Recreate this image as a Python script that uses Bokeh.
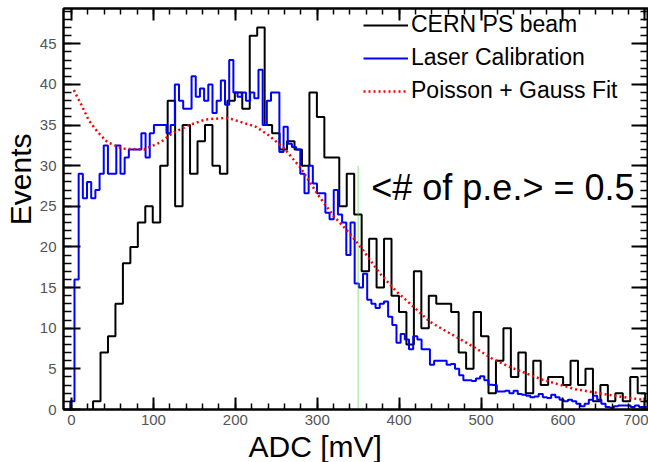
from bokeh.plotting import figure
from bokeh.models import (Range1d, LinearAxis, SingleIntervalTicker, Legend,
                          LegendItem, Title, Label)
from bokeh.embed import file_html
from bokeh.resources import INLINE

# ---------------- data ----------------
# CERN PS beam histogram (black): first bin edge and bin width in mV, counts per bin
beam_start = 26.3
beam_width = 9.11
beam_counts = [1, 7, 9, 13, 18, 20, 23, 25, 23, 30,
               38, 25, 35, 29, 33, 35, 30, 29, 38, 39,
               37, 46, 47, 35, 34, 32, 33, 32, 30, 39,
               36, 31, 31, 25, 29, 24, 17, 21, 15, 21,
               14, 12, 8, 17, 10, 14, 13, 13, 12, 7,
               5, 12, 9, 2, 6, 10, 4, 7, 2, 6,
               3, 4, 4, 3, 6, 3, 5, 1, 3, 1,
               2, 1, 4, 2, 1]

# Laser calibration histogram (blue)
laser_start = -1.5
laser_width = 5.106
laser_counts = [1, 16, 29, 26, 28, 26, 27, 29, 32.5, 29,
                29, 32.5, 29, 31, 32, 32, 32, 34, 31, 34,
                35, 35, 35, 34, 35, 40, 38, 37, 37, 41,
                38.5, 39.5, 38, 40, 36.5, 38, 40.5, 37.5, 43, 39,
                38.5, 39, 38, 39, 38.3, 41.8, 35, 38, 39, 39,
                31.7, 34.8, 32.7, 32.3, 32, 29, 26.6, 30, 27.8, 26.6,
                26.6, 24.2, 23.4, 27, 24, 23, 19, 23, 15.5, 15,
                16.7, 13.5, 13, 12.5, 13, 13.3, 11.4, 10.4, 8.2, 9.3,
                8.6, 7.4, 9.0, 8.6, 7.4, 7.4, 5.5, 6, 6, 6,
                5.5, 5.6, 5, 4.2, 3.6, 3.6, 3.5, 3.8, 4.1, 3.6,
                3.06, 3.0, 2.2, 2.2, 2.3, 2.0, 2.3, 1.9, 1.8, 1.7,
                1.5, 1.6, 1.9, 1.5, 1.4, 1.8, 1.5, 1.2, 1.0, 1.2,
                1.0, 0.7, 0.4, 0.7, 1.2, 1.7, 1.2, 0.7, 0.3, 0.2,
                0.4, 0.5, 0.5, 0.5, 0.3, 0.5, 0.3, 0.3, 0.2]

# Poisson + Gauss fit (red dotted)
fit_x = [2.8, 11, 21, 31.5, 43.7, 62, 88.5, 109, 123, 143.6,
         164, 190.6, 225, 240, 260, 280, 301, 321, 339.5, 356,
         376, 397, 417, 437.5, 458, 472, 492.6, 513, 533.5, 554,
         574, 615, 656, 697]
fit_y = [39.3, 37.7, 35.6, 34.2, 32.9, 32.1, 32.0, 32.9, 34.0, 35.0,
         35.7, 35.9, 34.8, 33.8, 32.1, 29.7, 26.4, 23.7, 21.7, 19.6,
         16.8, 14.5, 12.7, 10.8, 9.6, 8.8, 7.6, 6.3, 5.3, 4.5,
         3.7, 2.5, 1.8, 1.2]

# vertical marker and annotation
marker_x = 350
marker_top = 30
annot_text = "<# of p.e.> = 0.5"
annot_x = 366
annot_y = 27.3

series_names = ["CERN PS beam", "Laser Calibration", "Poisson + Gauss Fit"]
x_label = "ADC [mV]"
y_label = "Events"

FONT = "Liberation Sans"


def step_outline(start, width, counts):
    xs, ys = [start], [0]
    for i, c in enumerate(counts):
        xs += [start + i * width, start + (i + 1) * width]
        ys += [c, c]
    xs.append(start + len(counts) * width)
    ys.append(0)
    return xs, ys


p = figure(width=648, height=462,
           x_range=Range1d(-9.8, 704.5), y_range=Range1d(0, 49.35),
           output_backend="svg", toolbar_location=None,
           min_border_left=63, min_border_right=0,
           min_border_top=8, min_border_bottom=52)
p.background_fill_color = "white"
p.border_fill_color = "white"
p.outline_line_color = "black"
p.outline_line_width = 2
p.grid.visible = False


def style_axis(ax, interval, tick_len, show_labels):
    ax.ticker = SingleIntervalTicker(interval=interval, num_minor_ticks=5)
    ax.major_tick_in = tick_len
    ax.major_tick_out = 0
    ax.minor_tick_in = tick_len // 2
    ax.minor_tick_out = 0
    ax.axis_line_width = 2
    ax.axis_line_color = "black"
    ax.major_tick_line_width = 2
    ax.minor_tick_line_width = 1.5
    ax.major_tick_line_color = "black"
    ax.minor_tick_line_color = "black"
    if show_labels:
        ax.major_label_text_font = FONT
        ax.major_label_text_font_size = "15px"
        ax.major_label_text_color = "#555555"
        ax.major_label_standoff = 5
    else:
        # mirror axis: ticks only, labels neither drawn nor taking room
        ax.major_label_text_font_size = "1px"
        ax.major_label_text_alpha = 0
        ax.major_label_standoff = 0


style_axis(p.xaxis[0], 100, 12, True)
style_axis(p.yaxis[0], 5, 17, True)
p.yaxis[0].major_label_standoff = 7

top_ax = LinearAxis()
style_axis(top_ax, 100, 12, False)
p.add_layout(top_ax, "above")
right_ax = LinearAxis()
style_axis(right_ax, 5, 17, False)
p.add_layout(right_ax, "right")

p.add_layout(Title(text=y_label, align="right", offset=125, text_font=FONT,
                   text_font_size="30px", text_font_style="normal",
                   text_color="black", standoff=0), "left")
p.add_layout(Title(text=x_label, align="left", offset=185, text_font=FONT,
                   text_font_size="30px", text_font_style="normal",
                   text_color="black", standoff=0), "below")

bx, by = step_outline(beam_start, beam_width, beam_counts)
r_beam = p.line(bx, by, line_color="black", line_width=2)
lx, ly = step_outline(laser_start, laser_width, laser_counts)
r_laser = p.line(lx, ly, line_color="#0000ff", line_width=2)
p.segment(x0=[marker_x], y0=[0], x1=[marker_x], y1=[marker_top],
          line_color="#55d455", line_width=1.3, line_dash="1 1")
r_fit = p.line(fit_x, fit_y, line_color="#ff0000", line_width=2.5,
               line_dash="2 3")

p.add_layout(Label(x=annot_x, y=annot_y, text=annot_text, text_font=FONT,
                   text_font_size="36px", text_baseline="alphabetic",
                   text_color="black"))

legend = Legend(items=[LegendItem(label=series_names[0], renderers=[r_beam]),
                       LegendItem(label=series_names[1], renderers=[r_laser]),
                       LegendItem(label=series_names[2], renderers=[r_fit])],
                location=(300, 305), orientation="vertical",
                border_line_alpha=0, background_fill_alpha=0,
                label_text_font=FONT, label_text_font_size="23px",
                label_text_color="black",
                glyph_width=45, glyph_height=26, label_height=26,
                spacing=6, padding=0, margin=0, label_standoff=3)
p.add_layout(legend, "center")

open("out.html", "w").write(file_html(p, INLINE))
